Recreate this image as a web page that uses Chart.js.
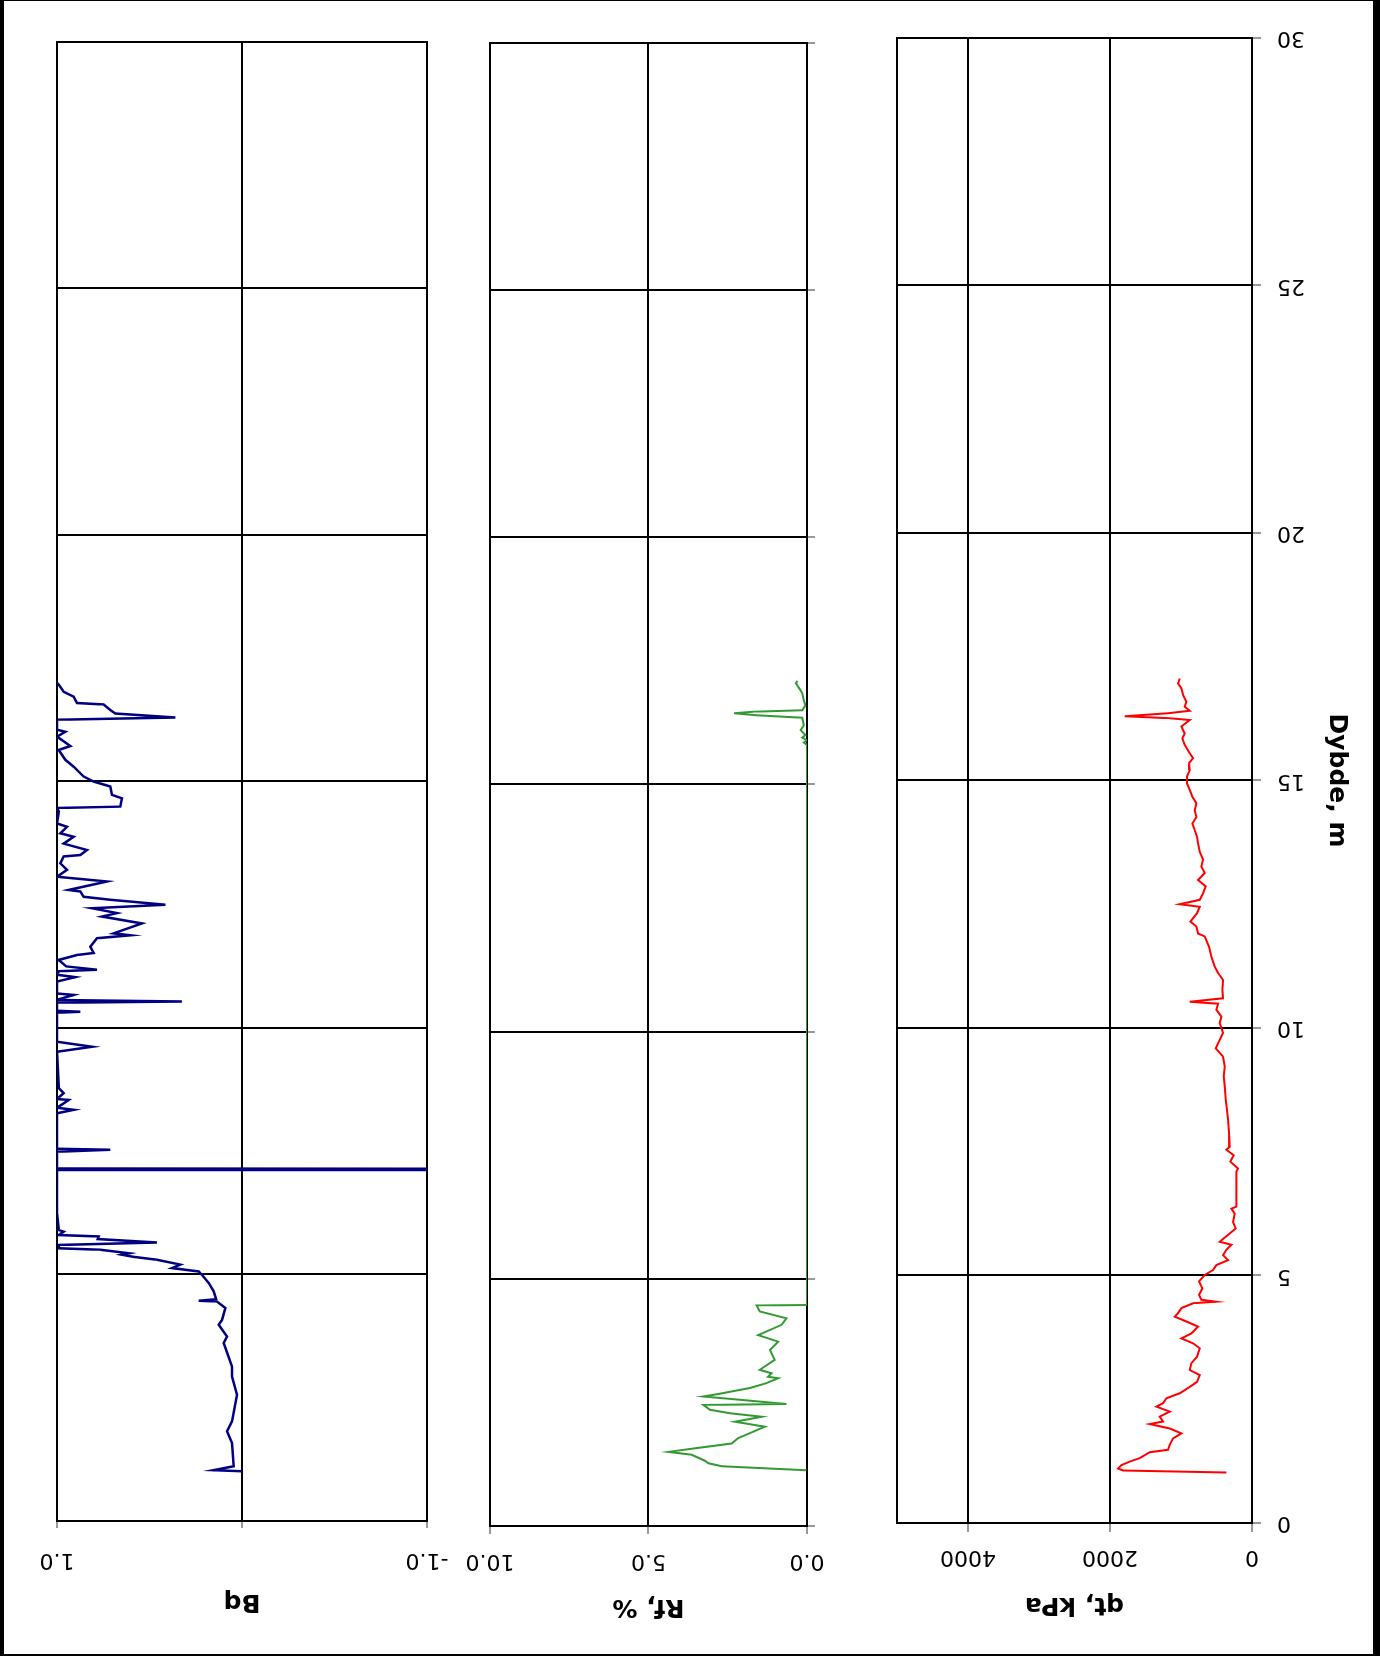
<!DOCTYPE html>
<html>
<head>
<meta charset="utf-8">
<title>CPT - qt, Rf, Bq</title>
<script src="https://cdn.jsdelivr.net/npm/chart.js@4.4.0/dist/chart.umd.min.js"></script>
<style>
  html, body { margin: 0; padding: 0; background: #fff; }
  #page {
    position: absolute; left: 0; top: 0;
    width: 1380px; height: 1656px;
    background: #fff; overflow: hidden;
    transform: rotate(180deg);
  }
  #frame {
    position: absolute; left: 0; top: 0;
    width: 1380px; height: 1656px;
    box-sizing: border-box;
    border: solid #000;
    border-width: 2px 4px 1px 7px;
    pointer-events: none;
  }
  canvas { position: absolute; }
</style>
</head>
<body>
<div id="page">
  <canvas id="qt" width="485" height="1622" style="left:28px; top:36px;"></canvas>
  <canvas id="rf" width="417" height="1619" style="left:533px; top:34px;"></canvas>
  <canvas id="bq" width="460" height="1615" style="left:908px; top:39px;"></canvas>
  <div id="frame"></div>
</div>

<script>
// tick labels
var depthTicks = [0, 5, 10, 15, 20, 25, 30];
var qtTicks = [0, 2000, 4000];
var rfTicks = [0, 5, 10];
var bqTicks = [-1, 0, 1];

// qt, kPa
var qtDepth = [1.02, 1.06, 1.10, 1.17, 1.24, 1.31, 1.43, 1.48, 1.58, 1.71, 1.81, 1.91, 2.00, 2.05, 2.15,
  2.25, 2.35, 2.42, 2.52, 2.62, 2.75, 2.85, 2.99, 3.09, 3.23, 3.36, 3.53, 3.63, 3.73, 3.83,
  3.97, 4.07, 4.17, 4.24, 4.34, 4.44, 4.47, 4.51, 4.61, 4.74, 4.88, 5.01, 5.11, 5.21, 5.31,
  5.41, 5.52, 5.62, 5.68, 5.85, 5.95, 6.08, 6.25, 6.35, 6.39, 7.10, 7.16, 7.30, 7.43, 7.54,
  7.60, 7.87, 8.14, 8.34, 8.55, 8.82, 9.02, 9.22, 9.42, 9.59, 9.69, 9.90, 10.10, 10.23, 10.37,
  10.49, 10.53, 10.60, 10.77, 10.97, 11.11, 11.24, 11.44, 11.64, 11.85, 11.91, 12.05, 12.15, 12.32, 12.45,
  12.50, 12.59, 12.72, 12.86, 12.99, 13.13, 13.26, 13.40, 13.56, 13.73, 13.86, 14.00, 14.13, 14.26, 14.40,
  14.54, 14.67, 14.81, 14.94, 15.08, 15.21, 15.35, 15.45, 15.55, 15.72, 15.85, 15.95, 16.09, 16.22, 16.26,
  16.30, 16.36, 16.41, 16.49, 16.59, 16.73, 16.86, 16.96, 17.06];
var qtValue = [361, 1816, 1886, 1839, 1722, 1581, 1440, 1183, 1159, 1112, 994, 1159, 1440, 1253, 1300,
  1159, 1346, 1253, 1206, 1018, 877, 774, 736, 877, 853, 774, 736, 830, 994, 853,
  760, 924, 1088, 1041, 994, 830, 511, 713, 746, 699, 746, 666, 549, 502, 337,
  408, 361, 290, 455, 314, 230, 267, 244, 290, 220, 220, 197, 305, 258, 361,
  314, 323, 337, 352, 370, 384, 398, 384, 408, 511, 478, 408, 455, 431, 502,
  478, 877, 408, 417, 408, 478, 525, 572, 605, 666, 760, 783, 868, 774, 736,
  1018, 736, 690, 652, 760, 666, 713, 690, 736, 760, 774, 807, 840, 783, 807,
  783, 840, 877, 915, 915, 877, 887, 830, 877, 948, 981, 948, 994, 877, 1159,
  1793, 1182, 877, 948, 924, 971, 994, 1041, 1018];

// Rf, %
var rfDepth = [1.13, 1.21, 1.27, 1.32, 1.44, 1.50, 1.57, 1.67, 1.78, 1.88, 2.01, 2.11, 2.21, 2.28, 2.35,
  2.45, 2.47, 2.62, 2.67, 2.79, 2.89, 2.99, 3.02, 3.09, 3.16, 3.36, 3.56, 3.73, 3.86, 4.07,
  4.20, 4.34, 4.46, 4.47, 15.80, 15.85, 15.90, 15.95, 16.00, 16.10, 16.20, 16.35, 16.40, 16.44, 16.47,
  16.50, 16.60, 16.70, 16.85, 16.95, 17.05, 17.10];
var rfValue = [0.02, 2.69, 3.11, 3.22, 3.64, 4.37, 3.58, 2.38, 2.17, 1.80, 1.33, 2.27, 1.43, 2.43, 3.06,
  3.27, 0.65, 3.27, 2.80, 1.80, 1.28, 0.91, 1.23, 1.12, 1.49, 1.02, 1.17, 0.91, 1.54, 0.80,
  0.65, 1.49, 1.59, 0.00, 0.00, 0.10, 0.00, 0.15, 0.05, 0.20, 0.10, 0.15, 1.60, 2.30, 1.70,
  0.15, 0.05, 0.10, 0.15, 0.25, 0.35, 0.30];

// Bq
var bqDepth = [1.01, 1.03, 1.11, 1.58, 1.82, 2.02, 2.56, 2.93, 3.13, 3.61, 3.74, 3.98, 4.08, 4.32, 4.45,
  4.47, 4.50, 4.66, 4.83, 4.99, 5.06, 5.13, 5.20, 5.30, 5.36, 5.40, 5.43, 5.50, 5.53, 5.60,
  5.65, 5.72, 5.77, 5.80, 5.87, 5.90, 6.25, 7.115, 7.12, 7.145, 7.15, 7.49, 7.53, 7.55, 8.27,
  8.34, 8.38, 8.54, 8.56, 8.68, 8.78, 9.52, 9.62, 9.72, 10.31, 10.33, 10.35, 10.51, 10.54, 10.57,
  10.67, 10.70, 10.94, 11.03, 11.08, 11.15, 11.18, 11.25, 11.38, 11.48, 11.52, 11.65, 11.82, 11.88, 11.92,
  12.12, 12.26, 12.33, 12.43, 12.50, 12.60, 12.66, 12.77, 12.80, 12.97, 13.07, 13.21, 13.34, 13.48, 13.51,
  13.61, 13.74, 13.88, 13.95, 14.08, 14.15, 14.39, 14.46, 14.49, 14.66, 14.73, 14.90, 15.00, 15.10, 15.30,
  15.44, 15.64, 15.72, 15.91, 16.01, 16.05, 16.25, 16.30, 16.38, 16.45, 16.56, 16.59, 16.72, 16.82, 16.96,
  17.00];
var bqValue = [0.00, 0.153, 0.045, 0.054, 0.081, 0.054, 0.027, 0.054, 0.054, 0.099, 0.081, 0.126, 0.108, 0.09, 0.135,
  0.234, 0.14, 0.153, 0.18, 0.216, 0.234, 0.379, 0.334, 0.46, 0.59, 0.649, 0.61, 0.766, 0.99, 0.99,
  0.46, 0.78, 0.775, 0.99, 0.964, 0.99, 1.0, 1.0, -1.0, -1.0, 1.0, 1.0, 0.712, 1.0, 1.0,
  0.91, 1.0, 0.937, 1.0, 0.964, 0.99, 1.0, 0.811, 1.0, 1.0, 0.874, 1.0, 1.0, 0.325, 1.0,
  0.91, 1.0, 1.0, 0.901, 1.0, 0.99, 0.784, 0.95, 0.991, 0.892, 0.802, 0.82, 0.784, 0.604, 0.694,
  0.541, 0.757, 0.676, 0.811, 0.414, 0.712, 0.856, 0.874, 0.937, 0.73, 1.0, 0.946, 0.982, 0.964, 0.874,
  0.838, 0.964, 0.91, 0.982, 0.946, 1.0, 0.99, 1.0, 0.658, 0.649, 0.703, 0.712, 0.802, 0.856, 0.91,
  0.955, 0.991, 0.928, 1.0, 0.955, 1.0, 1.0, 0.36, 0.685, 0.712, 0.748, 0.892, 0.91, 0.964, 0.99,
  1.0];

Chart.defaults.font.family = "'DejaVu Sans', Verdana, sans-serif";
Chart.defaults.color = '#000';
Chart.defaults.animation = false;

function points(depth, value) {
  return depth.map(function(d, i) { return { x: value[i], y: d }; });
}

function fixTicks(list) {
  return function(scale) {
    scale.ticks = list.map(function(v) { return { value: v }; });
  };
}

// full box round the plot area, drawn under the curve
var framePlugin = {
  id: 'frame',
  beforeDatasetsDraw: function(chart) {
    var a = chart.chartArea, ctx = chart.ctx;
    ctx.save();
    ctx.strokeStyle = '#000';
    ctx.lineWidth = 2;
    ctx.strokeRect(a.left, a.top, a.right - a.left, a.bottom - a.top);
    ctx.restore();
  }
};

function makeChart(id, cfg) {
  var yAxis = {
    type: 'linear',
    position: 'left',
    reverse: true,
    min: 0,
    max: 30,
    afterBuildTicks: fixTicks(depthTicks),
    afterFit: function(s) { s.width = cfg.yWidth; },
    grid: { color: '#000', lineWidth: 2, tickLength: cfg.yTick, drawTicks: cfg.yTick > 0, tickColor: '#777', tickWidth: 1.5 },
    border: { color: '#000', width: 2 },
    ticks: { display: !!cfg.yLabels, padding: 16, font: { size: 22 } },
    title: {
      display: !!cfg.yLabels,
      text: 'Dybde, m',
      padding: 0,
      font: { size: 25, weight: 'bold' }
    }
  };
  var xAxis = {
    type: 'linear',
    position: 'top',
    min: cfg.min,
    max: cfg.max,
    afterBuildTicks: fixTicks(cfg.ticks),
    afterFit: function(s) { s.height = cfg.xHeight; },
    grid: { color: '#000', lineWidth: 2, tickLength: cfg.xTick, tickColor: '#777', tickWidth: 1.5 },
    border: { color: '#000', width: 2 },
    ticks: {
      padding: cfg.xPad,
      maxRotation: 0,
      font: { size: 22 },
      callback: cfg.fmt
    },
    title: {
      display: true,
      text: cfg.title,
      padding: 0,
      font: { size: 25, weight: 'bold' }
    }
  };
  return new Chart(document.getElementById(id), {
    type: 'scatter',
    data: {
      datasets: [{
        data: points(cfg.depth, cfg.value),
        showLine: true,
        borderColor: cfg.color,
        borderWidth: cfg.lineWidth,
        pointRadius: 0,
        tension: 0,
        fill: false
      }]
    },
    options: {
      responsive: false,
      layout: { padding: { left: 0, top: 0, right: cfg.padRight, bottom: 40 } },
      plugins: { legend: { display: false }, tooltip: { enabled: false } },
      scales: { x: xAxis, y: yAxis }
    },
    plugins: [framePlugin]
  });
}

makeChart('qt', {
  depth: qtDepth, value: qtValue, color: '#ff0000', lineWidth: 2,
  min: 0, max: 5000, ticks: qtTicks, title: 'qt, kPa',
  fmt: function(v) { return String(v); },
  xHeight: 97, xTick: 9, xPad: 12,
  yWidth: 100, yTick: 9, yLabels: true, padRight: 30
});

makeChart('rf', {
  depth: rfDepth, value: rfValue, color: '#339933', lineWidth: 2,
  min: 0, max: 10, ticks: rfTicks, title: 'Rf, %',
  fmt: function(v) { return v.toFixed(1); },
  xHeight: 96, xTick: 8, xPad: 14,
  yWidth: 40, yTick: 8, yLabels: false, padRight: 60
});

makeChart('bq', {
  depth: bqDepth, value: bqValue, color: '#000080', lineWidth: 2.5,
  min: -1, max: 1, ticks: bqTicks, title: 'Bq',
  fmt: function(v) { return v === 0 ? '' : v.toFixed(1); },
  xHeight: 96, xTick: 7, xPad: 19,
  yWidth: 45, yTick: 0, yLabels: false, padRight: 45
});
</script>
</body>
</html>
